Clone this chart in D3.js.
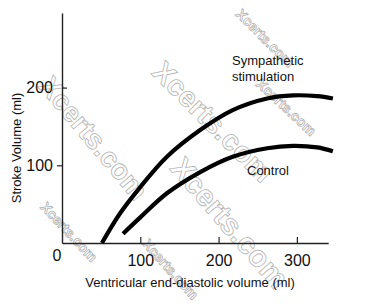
<!DOCTYPE html>
<html>
<head>
<meta charset="utf-8">
<script src="https://cdn.jsdelivr.net/npm/d3@7"></script>
<style>
	body { margin: 0; background: #fff; }
	svg text { font-family: Arial, "Liberation Sans", sans-serif; fill: #111; }
	.wm { font-weight: bold; fill: #fff; stroke: #b4b4b4; stroke-width: 0.8; }
</style>
</head>
<body>
<div id="chart"></div>
<script>

// data
const sympatheticEdv = [51, 74, 100, 134, 176, 218, 262, 295, 326, 346];
const sympatheticSv  = [0, 38, 72, 111, 145, 171, 186, 190, 189, 186];
const controlEdv = [78, 100, 134, 176, 218, 262, 295, 326, 346];
const controlSv  = [12, 33, 64, 91, 111, 122, 125, 123, 118];
const xTicks = [100, 200, 300];
const yTicks = [100, 200];

// watermarks (decoration only)
const watermarks = [
	{x:55, y:72, size:28, angle:50},
	{x:167, y:57, size:29, angle:45},
	{x:187, y:153, size:30, angle:49},
	{x:243, y:7, size:14, angle:45},
	{x:263, y:77, size:14, angle:43},
	{x:48, y:200, size:14, angle:47},
	{x:150, y:237, size:14, angle:48}
];

const w = 377;
const h = 304;

const svg = d3.select("#chart")
	.append("svg")
	.attr("width", w)
	.attr("height", h);

// scales
const x = d3.scaleLinear().domain([0, 340]).range([62, 328.2]);
const y = d3.scaleLinear().domain([0, 296]).range([243, 13]);

// watermarks behind everything
svg.selectAll(".wm")
	.data(watermarks)
	.enter()
	.append("text")
	.attr("class", "wm")
	.attr("transform", d => `translate(${d.x},${d.y}) rotate(${d.angle})`)
	.attr("dy", "0.8em")
	.style("font-size", d => d.size + "px")
	.text("Xcerts.com");

// x axis
const xAxis = svg.append("g")
	.attr("transform", `translate(0,${y(0)})`)
	.call(d3.axisBottom(x).tickValues(xTicks).tickSizeInner(-6).tickSizeOuter(0).tickPadding(12));
xAxis.select(".domain").attr("stroke", "#222").attr("stroke-width", 1.4);
xAxis.selectAll(".tick line").attr("stroke", "#222").attr("stroke-width", 1.2);
xAxis.selectAll(".tick text").style("font-size", "16px").attr("fill", "#111");

// y axis
const yAxis = svg.append("g")
	.attr("transform", `translate(${x(0)},0)`)
	.call(d3.axisLeft(y).tickValues(yTicks).tickSizeInner(5).tickSizeOuter(0).tickPadding(4));
yAxis.select(".domain").attr("stroke", "#222").attr("stroke-width", 1.4);
yAxis.selectAll(".tick line").attr("stroke", "#222").attr("stroke-width", 1.2)
	.filter(d => d === 200).attr("x2", 5);
yAxis.selectAll(".tick text").style("font-size", "16px").attr("fill", "#111");

// shared zero
svg.append("text")
	.attr("x", 57)
	.attr("y", 261)
	.attr("text-anchor", "middle")
	.style("font-size", "16px")
	.text("0");

// axis titles
svg.append("text")
	.attr("x", 190)
	.attr("y", 287)
	.attr("text-anchor", "middle")
	.style("font-size", "13px")
	.text("Ventricular end-diastolic volume (ml)");

svg.append("text")
	.attr("transform", "translate(21,148) rotate(-90)")
	.attr("text-anchor", "middle")
	.style("font-size", "13px")
	.text("Stroke Volume (ml)");

// curves
const line = d3.line()
	.x(d => x(d[0]))
	.y(d => y(d[1]))
	.curve(d3.curveCatmullRom);

const series = [
	d3.zip(sympatheticEdv, sympatheticSv),
	d3.zip(controlEdv, controlSv)
];

svg.selectAll(".curve")
	.data(series)
	.enter()
	.append("path")
	.attr("class", "curve")
	.attr("d", line)
	.attr("fill", "none")
	.attr("stroke", "#000")
	.attr("stroke-width", 4.2);

// curve labels
const lab = svg.append("text")
	.style("font-size", "13px");
lab.append("tspan").attr("x", 232).attr("y", 65).text("Sympathetic");
lab.append("tspan").attr("x", 232).attr("y", 81).text("stimulation");

svg.append("text")
	.attr("x", 247)
	.attr("y", 175)
	.style("font-size", "13px")
	.text("Control");

</script>
</body>
</html>
